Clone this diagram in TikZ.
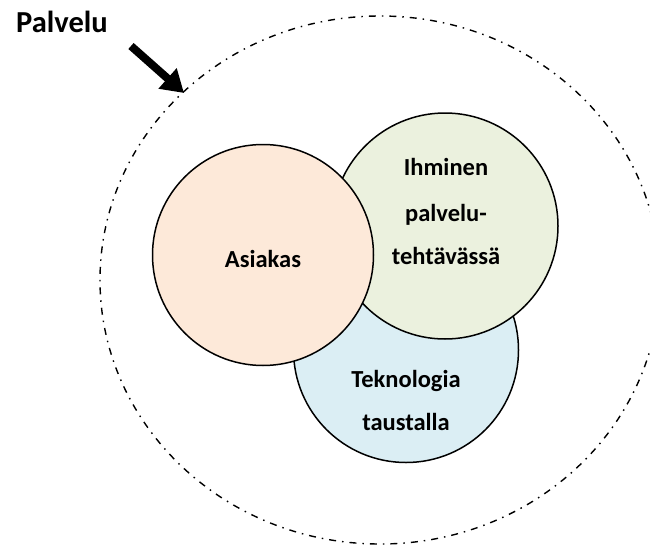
\documentclass[tikz,border=0pt]{standalone}
\usepackage{fontspec}
\setmainfont{Carlito}
\usetikzlibrary{arrows.meta}
\definecolor{peach}{HTML}{FDE9D9}
\definecolor{olivelight}{HTML}{EBF1DE}
\definecolor{aqualight}{HTML}{DBEEF4}
\tikzset{
  setcircle/.style={circle, draw=black, line width=1.5pt, inner sep=0pt},
  circlabel/.style={anchor=base, inner sep=0pt, font=\bfseries\fontsize{24.5}{29}\selectfont},
  titlelabel/.style={anchor=base, inner sep=0pt, font=\bfseries\fontsize{30.5}{36}\selectfont},
  boundary/.style={draw=black, line width=1.4pt, dash pattern=on 7pt off 6pt on 1.5pt off 6pt},
  pointer/.style={line width=8pt, -{Triangle[length=22pt, width=26pt]}}
}
\begin{document}
\begin{tikzpicture}[x=1pt, y=-1pt]
  \useasboundingbox (0,0) rectangle (650,546);
  \clip (0,0) rectangle (650,546);

  % service boundary
  \draw[boundary] (380,280) ellipse [x radius=280, y radius=264];

  % the three overlapping circles
  \node[setcircle, fill=aqualight, minimum size=225pt] (tech) at (406,350) {};
  \node[setcircle, fill=olivelight, minimum size=226pt] (human) at (445,226) {};
  \node[setcircle, fill=peach, minimum size=221pt] (customer) at (263,255) {};

  % circle texts
  \node[circlabel] (customerTxt) at (263,267) {Asiakas};
  \node[circlabel] (humanA) at (446,175) {Ihminen};
  \node[circlabel] (humanB) at (446,221) {palvelu-};
  \node[circlabel] (humanC) at (446,264) {tehtävässä};
  \node[circlabel] (techA) at (406,387) {Teknologia};
  \node[circlabel] (techB) at (406,430) {taustalla};

  % title and pointer
  \node[titlelabel] (title) at (62,32) {Palvelu};
  \coordinate (arrowTail) at (131,46);
  \coordinate (arrowTip) at (184,93);
  \draw[pointer] (arrowTail) -- (arrowTip);
\end{tikzpicture}
\end{document}
